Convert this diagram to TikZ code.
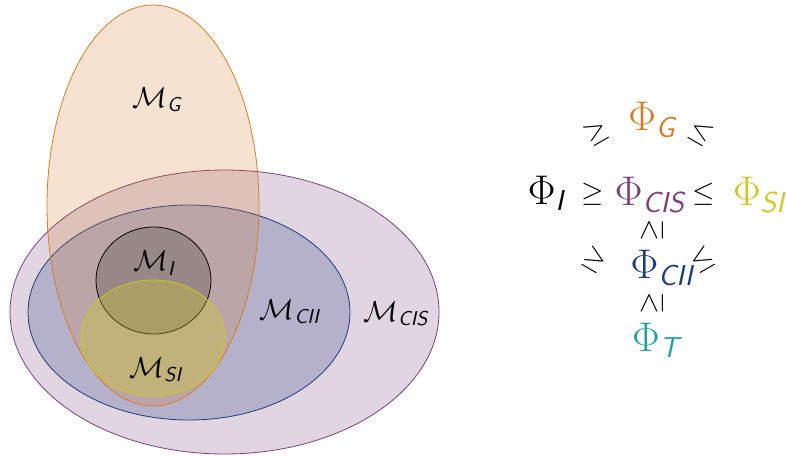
\documentclass[tikz,border=0pt]{standalone}
\usepackage{amsmath,amssymb}
\usepackage{tikz}
\usepackage{xcolor}
\definecolor{setG}{RGB}{212, 125, 40}
\definecolor{setCIS}{RGB}{123, 63, 123}
\definecolor{setCII}{RGB}{30, 60, 125}
\definecolor{setSI}{RGB}{205, 200, 40}
\definecolor{setT}{RGB}{40, 160, 160}
\newcommand{\sub}[1]{\textsf{\itshape #1}}

\begin{document}
\begin{tikzpicture}[x=0.5pt, y=-0.5pt]
    \useasboundingbox (0,0) rectangle (786,456);
    % sets
    \draw[setCIS, fill=setCIS, fill opacity=0.22] (224.5,312) ellipse [x radius=214.5, y radius=142];
    \draw[setCII, fill=setCII, fill opacity=0.23] (189,312.5) ellipse [x radius=161, y radius=107.5];
    \draw[setG, fill=setG, fill opacity=0.22] (153,205.5) ellipse [x radius=106, y radius=200.5];
    \draw[black, fill=black, fill opacity=0.18] (153.5,280.5) ellipse [x radius=57.5, y radius=53.5];
    \draw[setSI, fill=setSI, fill opacity=0.35] (153,338) ellipse [x radius=72, y radius=58];
    \node[font=\Large] (mG) at (157,100) {$\mathcal{M}_{\sub{G}}$};
    \node[font=\Large] (mI) at (154,263) {$\mathcal{M}_{\sub{I}}$};
    \node[font=\Large] (mSI) at (156,370) {$\mathcal{M}_{\sub{SI}}$};
    \node[font=\Large] (mCII) at (290,312) {$\mathcal{M}_{\sub{CII}}$};
    \node[font=\Large] (mCIS) at (396,314) {$\mathcal{M}_{\sub{CIS}}$};
    % measures
    \node[font=\huge, setG] (phiG) at (652,120) {$\Phi_{\sub{G}}$};
    \node[font=\huge] (phiI) at (546,193) {$\Phi_{\sub{I}}$};
    \node[font=\huge, setCIS] (phiCIS) at (650,195) {$\Phi_{\sub{CIS}}$};
    \node[font=\huge, setSI] (phiSI) at (759,195) {$\Phi_{\sub{SI}}$};
    \node[font=\huge, setCII] (phiCII) at (662,268) {$\Phi_{\sub{CII}}$};
    \node[font=\huge, setT] (phiT) at (656,340) {$\Phi_{\sub{T}}$};
    \node[font=\Large] (rIC) at (593,194) {$\geq$};
    \node[font=\Large] (rSC) at (704,194) {$\leq$};
    \node[font=\Large, rotate=30] (rIG) at (597,133) {$\geq$};
    \node[font=\Large, rotate=-30] (rSG) at (701,133) {$\leq$};
    \node[font=\Large, rotate=-30] (rIC2) at (595,260) {$\geq$};
    \node[font=\Large, rotate=30] (rSC2) at (703,260) {$\leq$};
    \node[font=\Large, rotate=90] (rCC) at (652,230) {$\geq$};
    \node[font=\Large, rotate=90] (rCT) at (652,303) {$\geq$};
\end{tikzpicture}
\end{document}
